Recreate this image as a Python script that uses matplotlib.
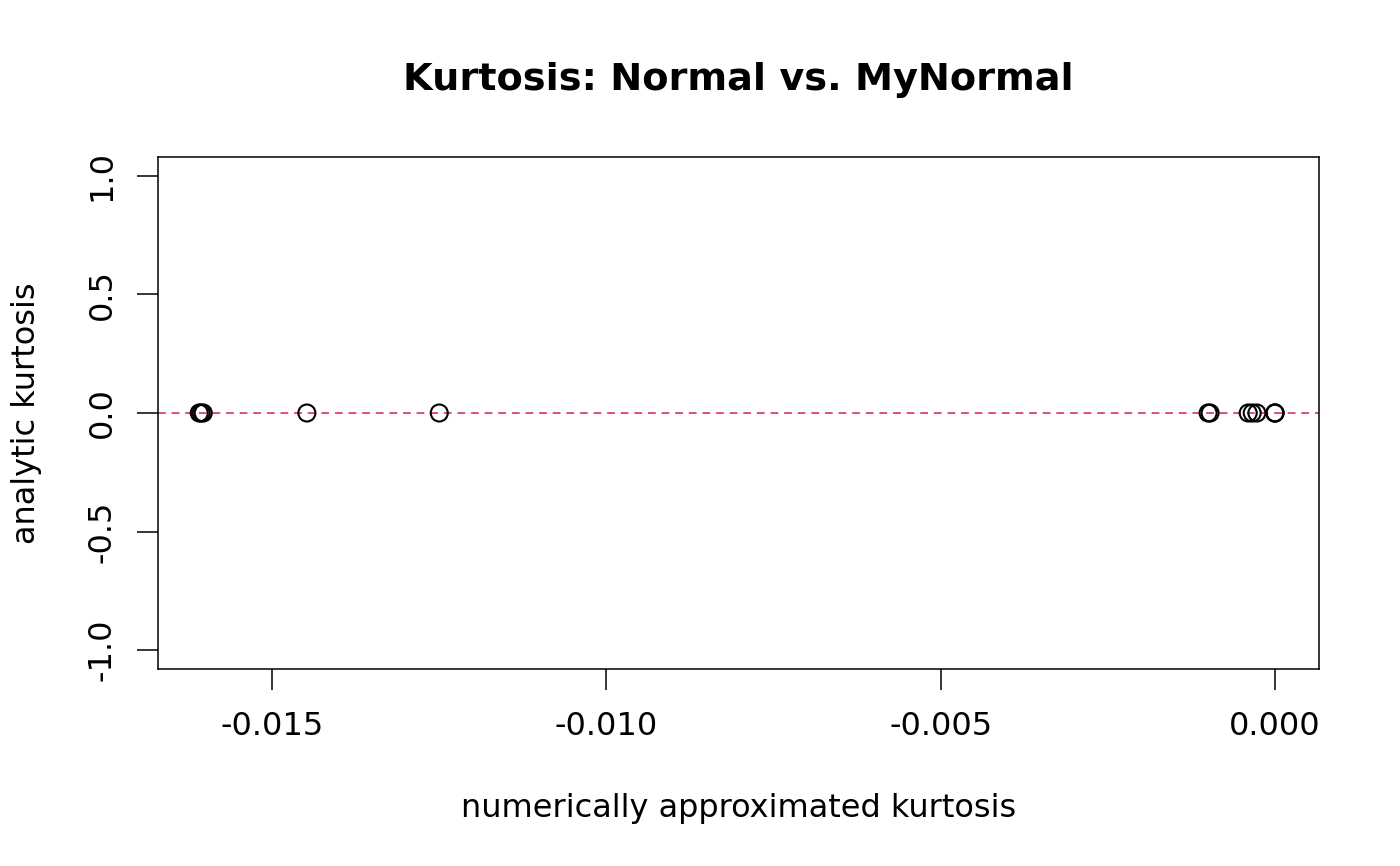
import matplotlib
matplotlib.use("Agg")
import matplotlib.pyplot as plt

# numerically approximated kurtosis vs analytic kurtosis (all analytic = 0)
numeric_kurt = [-0.01609, -0.01606, -0.01603, -0.01448, -0.01250,
                -0.00100, -0.00097, -0.00040, -0.00034, -0.00027,
                0.00000, 0.00000, 0.00000]
analytic_kurt = [0.0] * len(numeric_kurt)
xticks = [-0.015, -0.010, -0.005, 0.000]
xtick_labels = ["-0.015", "-0.010", "-0.005", "0.000"]
yticks = [-1.0, -0.5, 0.0, 0.5, 1.0]
ytick_labels = ["-1.0", "-0.5", "0.0", "0.5", "1.0"]

plt.rcParams["font.family"] = ["DejaVu Sans"]

fig = plt.figure(figsize=(14, 8.66), dpi=100)
ax = fig.add_axes([158 / 1400, 197 / 866, 1161 / 1400, 512 / 866])

ax.scatter(numeric_kurt, analytic_kurt, s=150, facecolors="none",
           edgecolors="black", linewidths=1.5, zorder=3)
ax.axhline(0, color="#DF536B", lw=1.4, ls=(0, (4, 3)), zorder=2)

ax.set_xlim(-0.016707, 0.000659)
ax.set_ylim(-1.08, 1.08)
ax.set_xticks(xticks, xtick_labels)
ax.set_yticks(yticks, ytick_labels)
ax.tick_params(axis="x", labelsize=23, length=15, width=1.1, pad=15)
ax.tick_params(axis="y", labelsize=23, length=15, width=1.1, pad=14)
for lbl in ax.get_yticklabels():
    lbl.set_rotation(90)
    lbl.set_va("center")
for s in ax.spines.values():
    s.set_linewidth(1.1)

ax.set_xlabel("numerically approximated kurtosis", fontsize=23, labelpad=37)
ax.set_ylabel("analytic kurtosis", fontsize=23, labelpad=32)
ax.set_title("Kurtosis: Normal vs. MyNormal", fontsize=27.5, fontweight="bold", pad=48)

fig.savefig("out.png", dpi=100)
